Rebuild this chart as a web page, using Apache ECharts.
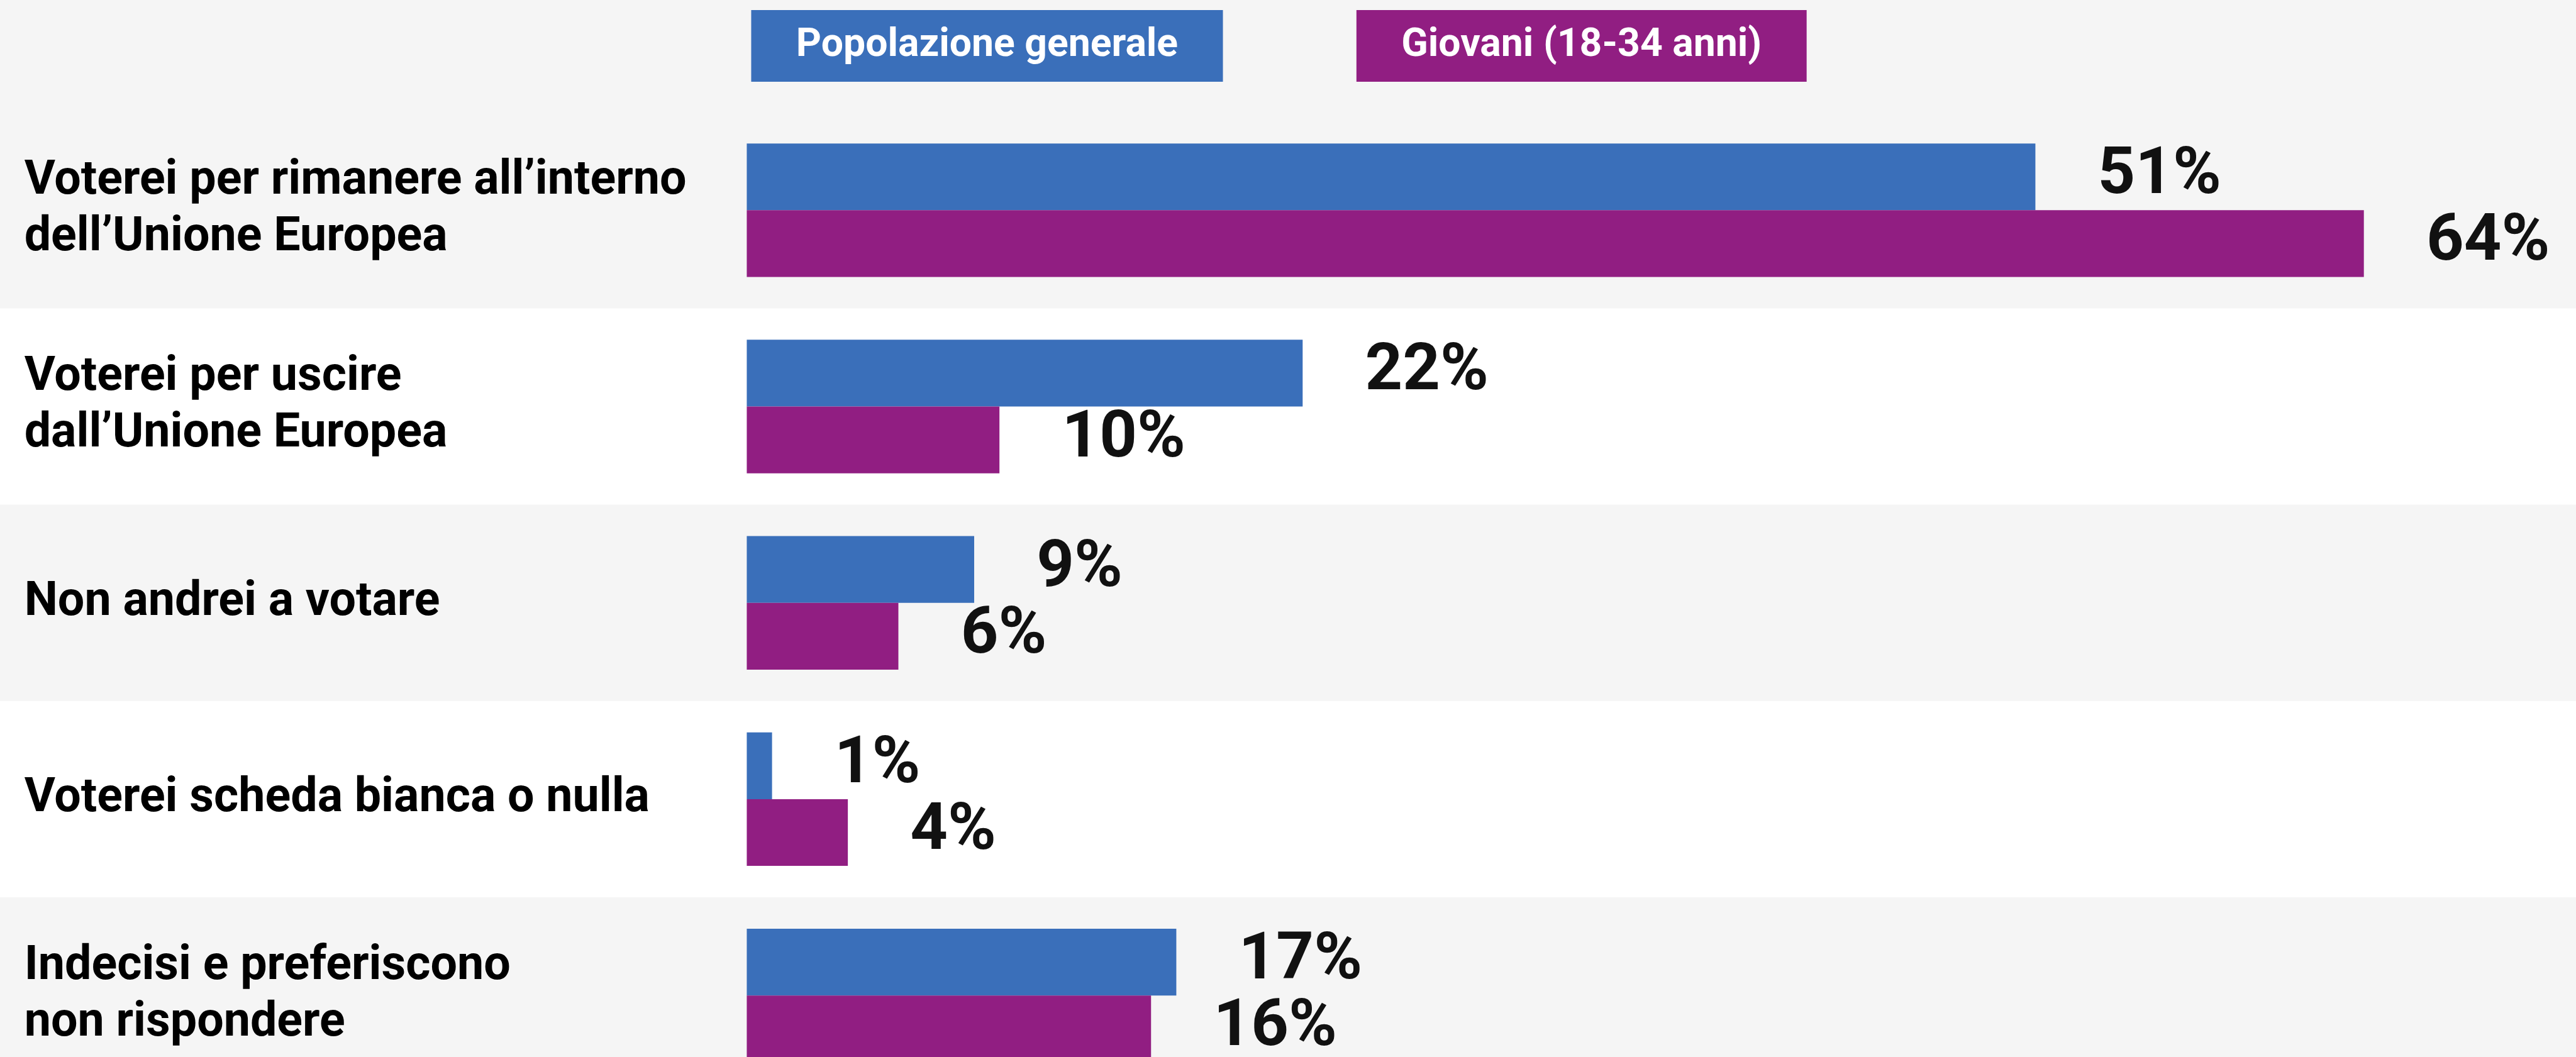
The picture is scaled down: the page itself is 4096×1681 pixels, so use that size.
<!DOCTYPE html>
<html>
<head>
<meta charset="utf-8">
<script src="https://cdn.jsdelivr.net/npm/echarts@6/dist/echarts.min.js"></script>
<style>
  html, body { margin: 0; padding: 0; background: #f5f5f5; }
  #chart { width: 4096px; height: 1681px; }
</style>
</head>
<body>
<div id="chart"></div>
<script>
// scala rispetto al riferimento
const S = 0.992;

const categories = [
  'Voterei per rimanere all’interno\ndell’Unione Europea',
  'Voterei per uscire\ndall’Unione Europea',
  'Non andrei a votare',
  'Voterei scheda bianca o nulla',
  'Indecisi e preferiscono\nnon rispondere'
];
const seriesNames = ['Popolazione generale', 'Giovani (18-34 anni)'];
const popolazioneGenerale = [51, 22, 9, 1, 17];
const giovani = [64, 10, 6, 4, 16];
const colors = ['#3a6fba', '#911e82'];

const FONT = 'Roboto, "Liberation Sans", Arial, sans-serif';
const ROW = 314.75 * S; // altezza di una categoria

const chart = echarts.init(document.getElementById('chart'));

const valueLabel = {
  show: true,
  position: 'right',
  distance: 100 * S,
  formatter: '{c}%',
  fontFamily: FONT,
  fontWeight: 'bold',
  fontSize: 105 * S,
  color: '#111'
};

const option = {
  backgroundColor: '#f5f5f5',
  animation: false,
  legend: {
    left: 1194 * S,
    top: 11 * S,
    itemWidth: 0,
    itemHeight: 0,
    itemGap: 214 * S - 5,
    selectedMode: false,
    data: seriesNames.map((name, i) => ({
      name: name,
      icon: 'rect',
      textStyle: {
        color: '#fff',
        fontFamily: FONT,
        fontWeight: 'bold',
        fontSize: 63 * S,
        lineHeight: 65 * S,
        backgroundColor: colors[i],
        padding: [25 * S, 72 * S, 25 * S, 72 * S]
      }
    }))
  },
  grid: {
    left: 1197 * S,
    top: 179.6 * S,
    width: 70 * 40.5 * S,
    height: categories.length * ROW,
    outerBoundsMode: 'none'
  },
  xAxis: {
    type: 'value',
    min: 0,
    max: 70,
    show: false
  },
  yAxis: {
    type: 'category',
    data: categories,
    inverse: true,
    axisLine: { show: false },
    axisTick: { show: false },
    axisLabel: {
      align: 'left',
      margin: 1158 * S,
      fontFamily: FONT,
      fontWeight: 'bold',
      fontSize: 76 * S,
      lineHeight: 91 * S,
      color: '#000'
    }
  },
  series: [
    {
      name: seriesNames[0],
      type: 'bar',
      data: popolazioneGenerale,
      barWidth: 107 * S,
      barGap: '0%',
      itemStyle: { color: colors[0] },
      label: valueLabel
    },
    {
      name: seriesNames[1],
      type: 'bar',
      data: giovani,
      barWidth: 107 * S,
      barGap: '0%',
      itemStyle: { color: colors[1] },
      label: valueLabel
    }
  ]
};

chart.setOption(option);

// fasce alternate a tutta larghezza, posizionate dalle categorie dell'asse
const bands = categories.map((c, i) => {
  const y = chart.convertToPixel({ yAxisIndex: 0 }, i);
  return {
    type: 'rect',
    z: -10,
    silent: true,
    shape: { x: 0, y: y - ROW / 2, width: 4096, height: ROW },
    style: { fill: i % 2 === 0 ? '#f5f5f5' : '#ffffff' }
  };
});
chart.setOption({ graphic: bands });

window.addEventListener('resize', () => chart.resize());
</script>
</body>
</html>
